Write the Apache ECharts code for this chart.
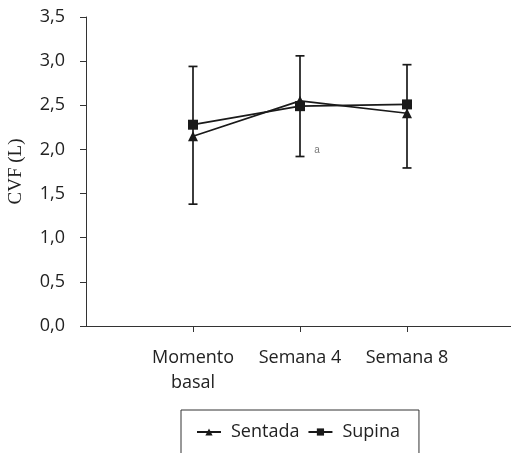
<!DOCTYPE html>
<html><head><meta charset="utf-8">
<script src="https://cdn.jsdelivr.net/npm/echarts@6/dist/echarts.min.js"></script>
<style>html,body{margin:0;padding:0;background:#fff}#c{width:511px;height:453px}</style>
</head><body><div id="c"></div>
<script>
const categories = ['Momento\nbasal', 'Semana 4', 'Semana 8'];
const categoryPos = [1, 2, 3];
const sentada = [2.15, 2.55, 2.41];
const supina = [2.28, 2.49, 2.51];
const errLow = [1.38, 1.92, 1.79];
const errHigh = [2.94, 3.06, 2.96];
const annotation = {text: 'a', x: 2.16, y: 1.99};

const FONT = 'Open Sans';
const INK = '#1a1a1a';

const chart = echarts.init(document.getElementById('c'));
const errData = categoryPos.map((x, i) => [x, errLow[i], errHigh[i]]);

chart.setOption({
  animation: false,
  backgroundColor: '#fff',
  grid: {left: 86, right: -3, top: 17, bottom: 127, containLabel: false, outerBoundsMode: 'none'},
  xAxis: {
    type: 'value', min: 0, max: 4, interval: 1,
    splitLine: {show: false},
    axisLine: {show: true, lineStyle: {color: '#333', width: 1}},
    axisTick: {show: true, inside: false, length: 6, customValues: categoryPos, lineStyle: {color: '#333'}},
    axisLabel: {
      customValues: categoryPos, margin: 19,
      formatter: v => categories[categoryPos.indexOf(v)] || '',
      fontFamily: FONT, fontSize: 18, color: '#222', lineHeight: 25
    }
  },
  yAxis: {
    type: 'value', min: 0, max: 3.5, interval: 0.5,
    name: 'CVF (L)', nameLocation: 'middle', nameRotate: 90, nameGap: 60,
    nameTextStyle: {fontFamily: 'Liberation Serif', fontSize: 19, color: '#222'},
    splitLine: {show: false},
    axisLine: {show: true, lineStyle: {color: '#333', width: 1}},
    axisTick: {show: true, length: 6, lineStyle: {color: '#333'}},
    axisLabel: {
      margin: 21, fontFamily: FONT, fontSize: 18, color: '#222',
      formatter: v => v.toFixed(1).replace('.', ',')
    }
  },
  legend: {
    left: 181, top: 410,
    padding: [13, 19, 40, 15],
    borderColor: '#333', borderWidth: 1,
    itemWidth: 24, itemHeight: 9, itemGap: 8,
    textStyle: {fontFamily: FONT, fontSize: 18, color: '#222', padding: [0, 0, 0, 5]},
    data: ['Sentada', 'Supina']
  },
  series: [
    {
      type: 'custom', name: 'err', silent: true, z: 1,
      data: errData,
      renderItem: (params, api) => {
        const x = api.coord([api.value(0), api.value(1)]);
        const y = api.coord([api.value(0), api.value(2)]);
        const w = 4.5;
        const st = {stroke: INK, lineWidth: 1.7};
        return {type: 'group', children: [
          {type: 'line', shape: {x1: x[0], y1: x[1], x2: y[0], y2: y[1]}, style: st},
          {type: 'line', shape: {x1: x[0]-w, y1: x[1], x2: x[0]+w, y2: x[1]}, style: st},
          {type: 'line', shape: {x1: y[0]-w, y1: y[1], x2: y[0]+w, y2: y[1]}, style: st}
        ]};
      }
    },
    {
      type: 'line', name: 'Sentada', z: 3,
      data: categoryPos.map((x, i) => [x, sentada[i]]),
      symbol: 'triangle', symbolSize: 10,
      lineStyle: {color: INK, width: 1.7}, itemStyle: {color: INK}
    },
    {
      type: 'line', name: 'Supina', z: 4,
      data: categoryPos.map((x, i) => [x, supina[i]]),
      symbol: 'rect', symbolSize: 10,
      lineStyle: {color: INK, width: 1.7}, itemStyle: {color: INK}
    },
    {
      type: 'scatter', name: 'annot', silent: true,
      data: [[annotation.x, annotation.y]], symbolSize: 0,
      label: {show: true, position: 'inside', formatter: annotation.text,
        fontFamily: 'Liberation Sans', fontSize: 10, color: '#555'}
    }
  ]
});
</script></body></html>
